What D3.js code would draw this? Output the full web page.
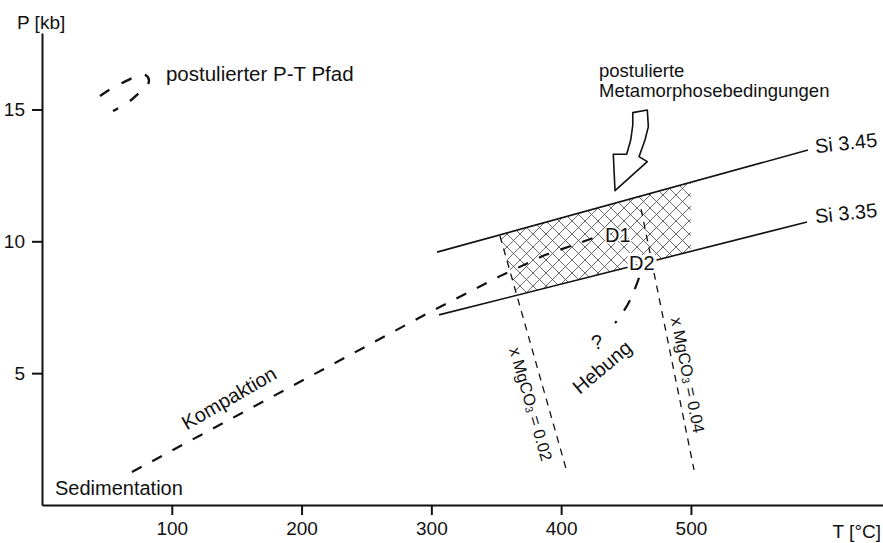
<!DOCTYPE html>
<html>
<head>
<meta charset="utf-8">
<script src="https://cdn.jsdelivr.net/npm/d3@7"></script>
<style>
  body { margin: 0; background: #fff; }
  svg text { font-family: "Liberation Sans", Arial, sans-serif; fill: #111; }
</style>
</head>
<body>
<div id="chart"></div>
<script>
// ticks
const tTicks = [100, 200, 300, 400, 500];
const pTicks = [5, 10, 15];

// isopleths (T in °C, P in kb)
const si345 = [[304.4, 9.59], [590.2, 13.46]];
const si335 = [[305.9, 7.21], [589.5, 10.73]];
const mg002 = [[352.9, 10.20], [404.5, 1.25]];
const mg004 = [[461.6, 11.22], [502.4, 1.33]];

// hatched field (postulated metamorphic conditions)
const hatchField = [[352.9, 10.25], [500, 12.24], [500, 9.62], [366, 7.96]];

// P-T path segments
const kompaktion = [[69.3, 1.25], [299.0, 7.32], [352.9, 8.68], [387.6, 9.48], [431.5, 10.24]];
const hebung = [[460.0, 8.61], [453.1, 7.77], [444.6, 7.09], [437.6, 6.67]];
const legendLoop = [[44.7, 15.51], [53.9, 15.81], [63.2, 16.04], [71.7, 16.23], [79.4, 16.31],
                    [82.4, 16.12], [80.9, 15.89], [75.5, 15.66], [67.8, 15.32], [60.1, 15.09], [54.7, 14.94]];

// big outlined arrow
const arrowOutline = [[466.4, 14.98], [467.2, 14.35], [464.6, 13.84], [460.0, 13.21], [466.4, 13.02],
                      [441.5, 11.92], [440.2, 13.30], [450.5, 13.30], [453.6, 13.84], [455.2, 14.41], [455.2, 14.88]];

const W = 883, H = 543;
const x = d3.scaleLinear().domain([0, 648]).range([42, 883]);
const y = d3.scaleLinear().domain([0, 17.9]).range([505, 33]);

const svg = d3.select("#chart").append("svg")
    .attr("width", W)
    .attr("height", H);

const defs = svg.append("defs");
const pat = defs.append("pattern")
    .attr("id", "xhatch")
    .attr("patternUnits", "userSpaceOnUse")
    .attr("width", 13)
    .attr("height", 13);
pat.append("path")
    .attr("d", "M0,0L13,13M13,0L0,13M-1,12L1,14M12,-1L14,1")
    .attr("stroke", "#444")
    .attr("stroke-width", 0.8);

const line = d3.line().x(d => x(d[0])).y(d => y(d[1]));
const curve = d3.line().x(d => x(d[0])).y(d => y(d[1])).curve(d3.curveCatmullRom);
const closed = d3.line().x(d => x(d[0])).y(d => y(d[1])).curve(d3.curveLinearClosed);

// hatch
svg.append("path")
    .attr("d", closed(hatchField))
    .attr("fill", "url(#xhatch)")
    .attr("stroke", "none");

// axes
const xAxis = svg.append("g")
    .attr("transform", `translate(0,${y(0)})`)
    .call(d3.axisBottom(x).tickValues(tTicks).tickSize(10).tickSizeOuter(0).tickPadding(7));
const yAxis = svg.append("g")
    .attr("transform", `translate(${x(0)},0)`)
    .call(d3.axisLeft(y).tickValues(pTicks).tickSize(10).tickSizeOuter(0).tickPadding(7));
[xAxis, yAxis].forEach(g => {
    g.select(".domain").attr("stroke", "#111").attr("stroke-width", 2);
    g.selectAll(".tick line").attr("stroke", "#111").attr("stroke-width", 2);
    g.selectAll(".tick text").style("font-size", "19px").attr("fill", "#111");
});

svg.append("text").attr("x", 17).attr("y", 29).style("font-size", "19px").text("P [kb]");
svg.append("text").attr("x", 881).attr("y", 538).attr("text-anchor", "end").style("font-size", "19px").text("T [°C]");

// Si isopleths
[si345, si335].forEach(d => {
    svg.append("path").attr("d", line(d))
        .attr("fill", "none").attr("stroke", "#111").attr("stroke-width", 1.6);
});

// MgCO3 isopleths
[mg002, mg004].forEach(d => {
    svg.append("path").attr("d", line(d))
        .attr("fill", "none").attr("stroke", "#111").attr("stroke-width", 1.3)
        .attr("stroke-dasharray", "7,6");
});

// P-T path
svg.append("path").attr("d", line(kompaktion))
    .attr("fill", "none").attr("stroke", "#111").attr("stroke-width", 2.2)
    .attr("stroke-dasharray", "11,12");
svg.append("path").attr("d", curve(hebung))
    .attr("fill", "none").attr("stroke", "#111").attr("stroke-width", 2.2)
    .attr("stroke-dasharray", "12,12,12,13,2.5");
svg.append("path").attr("d", curve(legendLoop))
    .attr("fill", "none").attr("stroke", "#111").attr("stroke-width", 2.4)
    .attr("stroke-dasharray", "11,14");

// arrow
svg.append("path")
    .attr("d", closed(arrowOutline))
    .attr("fill", "#fff").attr("stroke", "#111").attr("stroke-width", 1.6)
    .attr("stroke-linejoin", "round");

// labels
function label(t, p, txt, size, opts = {}) {
    const el = svg.append("text")
        .attr("transform", `translate(${x(t)},${y(p)}) rotate(${opts.rot || 0})`)
        .attr("text-anchor", opts.anchor || "start")
        .attr("dominant-baseline", opts.baseline || "auto")
        .style("font-size", size + "px");
    if (opts.sub) {
        el.append("tspan").text(txt[0]);
        el.append("tspan").text(txt[1]).attr("baseline-shift", "-30%").style("font-size", (size * 0.65) + "px");
        el.append("tspan").text(txt[2]);
    } else {
        el.text(txt);
    }
    if (opts.halo) {
        el.attr("stroke", "#fff").attr("stroke-width", opts.halo)
          .attr("paint-order", "stroke").attr("stroke-linejoin", "round");
    }
    return el;
}

label(95.5, 16.08, "postulierter P-T Pfad", 20.5);
label(429.2, 16.23, "postulierte", 18.5);
label(429.2, 15.47, "Metamorphosebedingungen", 18.5);
label(619.5, 13.73, "Si 3.45", 20, { anchor: "middle", baseline: "central", rot: -6 });
label(619.5, 11.07, "Si 3.35", 20, { anchor: "middle", baseline: "central", rot: -6 });
label(433.8, 9.97, "D1", 20, { halo: 3 });
label(452.3, 8.91, "D2", 20, { halo: 6 });
label(144.1, 4.06, "Kompaktion", 20, { anchor: "middle", baseline: "central", rot: -30 });
label(431.5, 5.23, "Hebung", 20, { anchor: "middle", baseline: "central", rot: -40 });
label(427.6, 6.18, "?", 20, { anchor: "middle", baseline: "central", rot: -15 });
label(10.0, 0.38, "Sedimentation", 20);
label(376.8, 3.83, ["x MgCO", "3", " = 0.02"], 16.5, { anchor: "middle", baseline: "central", rot: 73.9, sub: true });
label(497.8, 4.93, ["x MgCO", "3", " = 0.04"], 16.5, { anchor: "middle", baseline: "central", rot: 78.8, sub: true });
</script>
</body>
</html>
